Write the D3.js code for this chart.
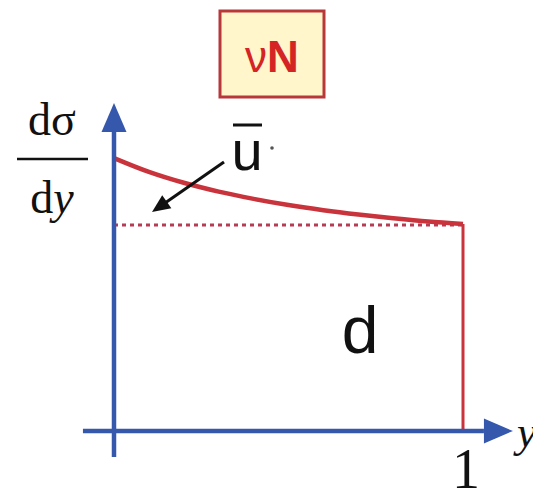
<!DOCTYPE html>
<html>
<head>
<meta charset="utf-8">
<script src="https://cdn.jsdelivr.net/npm/d3@7"></script>
<style>
  html, body { margin: 0; padding: 0; background: #fff; }
  svg { display: block; }
</style>
</head>
<body>
<svg id="chart" width="533" height="493"></svg>
<script>
// Inelastic y-distribution for neutrino–nucleon scattering:
// flat quark (d) part plus a falling antiquark (ū) part.
const yValues     = [0, 0.1, 0.2, 0.3, 0.4, 0.5, 0.6, 0.7, 0.8, 0.9, 1.0];
const totalValues = [1.325, 1.258, 1.205, 1.162, 1.127, 1.097, 1.072, 1.051, 1.033, 1.017, 1.005];
const dLevel = [1.0];
const xTickLabels = ["1"];

const svg = d3.select("#chart");

const x = d3.scaleLinear().domain([0, 1]).range([114, 463]);
const y = d3.scaleLinear().domain([0, 1]).range([431, 225]);

const blue = "#3558ad";
const red = "#c9333b";

// process label box
svg.append("rect")
  .attr("x", 220).attr("y", 11).attr("width", 104).attr("height", 86)
  .attr("fill", "#fff6cc").attr("stroke", "#b8383a").attr("stroke-width", 3);
const proc = svg.append("text")
  .attr("x", 272).attr("y", 72).attr("text-anchor", "middle")
  .attr("font-family", "Liberation Sans, Arial, sans-serif")
  .attr("font-size", 44).attr("fill", "#d42424");
proc.append("tspan").text("ν");
proc.append("tspan").attr("font-weight", "bold").text("N");

// flat d contribution (dotted)
svg.append("line")
  .attr("x1", x(0)).attr("x2", x(1))
  .attr("y1", y(dLevel[0])).attr("y2", y(dLevel[0]))
  .attr("stroke", "#b83a55").attr("stroke-width", 3)
  .attr("stroke-dasharray", "4,4");

// total cross section
const pts = yValues.map((v, i) => [v, totalValues[i]]);
svg.append("path")
  .datum(pts)
  .attr("d", d3.line().x(d => x(d[0])).y(d => y(d[1])).curve(d3.curveMonotoneX))
  .attr("fill", "none").attr("stroke", red).attr("stroke-width", 4.5);

// kinematic limit at y = 1
svg.append("line")
  .attr("x1", x(1)).attr("x2", x(1))
  .attr("y1", y(totalValues[totalValues.length - 1])).attr("y2", y(0))
  .attr("stroke", red).attr("stroke-width", 3);

// axes with arrowheads
svg.append("line")
  .attr("x1", x(-0.089)).attr("x2", x(1.06))
  .attr("y1", y(0)).attr("y2", y(0))
  .attr("stroke", blue).attr("stroke-width", 4.5);
svg.append("line")
  .attr("x1", x(0)).attr("x2", x(0))
  .attr("y1", y(-0.126)).attr("y2", y(1.5))
  .attr("stroke", blue).attr("stroke-width", 4.5);
const xTipX = x(1.143), xTipY = y(0);
svg.append("polygon")
  .attr("points", [[xTipX, xTipY], [xTipX - 29, xTipY - 12.5], [xTipX - 29, xTipY + 12.5]].join(" "))
  .attr("fill", blue);
const yTipX = x(0), yTipY = y(1.592);
svg.append("polygon")
  .attr("points", [[yTipX, yTipY], [yTipX - 12.5, yTipY + 29], [yTipX + 12.5, yTipY + 29]].join(" "))
  .attr("fill", blue);

// axis labels
const serif = "Liberation Serif, Times New Roman, serif";
svg.append("text").attr("x", 52).attr("y", 135).attr("text-anchor", "middle")
  .attr("font-family", serif).attr("font-size", 46).attr("fill", "#111").text("dσ");
svg.append("line").attr("x1", 17).attr("x2", 88).attr("y1", 159).attr("y2", 159)
  .attr("stroke", "#111").attr("stroke-width", 2.5);
const dy = svg.append("text").attr("x", 52).attr("y", 213).attr("text-anchor", "middle")
  .attr("font-family", serif).attr("font-size", 46).attr("fill", "#111");
dy.append("tspan").text("d");
dy.append("tspan").attr("font-style", "italic").text("y");

svg.append("text").attr("x", 517).attr("y", 447)
  .attr("font-family", serif).attr("font-style", "italic")
  .attr("font-size", 44).attr("fill", "#111").text("y");

svg.selectAll("text.xtick").data(xTickLabels).join("text")
  .attr("class", "xtick")
  .attr("x", x(1) + 3).attr("y", 488).attr("text-anchor", "middle")
  .attr("font-family", serif).attr("font-size", 56).attr("fill", "#111")
  .text(d => d);

// ū annotation with arrow
const sans = "Liberation Sans, Arial, sans-serif";
svg.append("text").attr("x", 247).attr("y", 170).attr("text-anchor", "middle")
  .attr("font-family", sans).attr("font-size", 56).attr("fill", "#111").text("u");
svg.append("line").attr("x1", 233).attr("x2", 262).attr("y1", 125).attr("y2", 125)
  .attr("stroke", "#111").attr("stroke-width", 3);
svg.append("circle").attr("cx", 272).attr("cy", 148).attr("r", 1.8).attr("fill", "#555");

const ax1 = 224, ay1 = 162, ax2 = 152, ay2 = 212;
const ang = Math.atan2(ay2 - ay1, ax2 - ax1);
svg.append("line").attr("x1", ax1).attr("y1", ay1)
  .attr("x2", ax2 - 8 * Math.cos(ang)).attr("y2", ay2 - 8 * Math.sin(ang))
  .attr("stroke", "#111").attr("stroke-width", 3);
const hl = 18, hw = 8;
const bx = ax2 - hl * Math.cos(ang), by = ay2 - hl * Math.sin(ang);
svg.append("polygon")
  .attr("points", [[ax2, ay2],
    [bx + hw * Math.sin(ang), by - hw * Math.cos(ang)],
    [bx - hw * Math.sin(ang), by + hw * Math.cos(ang)]].join(" "))
  .attr("fill", "#111");

// quark label
svg.append("text").attr("x", 360).attr("y", 353).attr("text-anchor", "middle")
  .attr("font-family", sans).attr("font-size", 66).attr("fill", "#111").text("d");
</script>
</body>
</html>
